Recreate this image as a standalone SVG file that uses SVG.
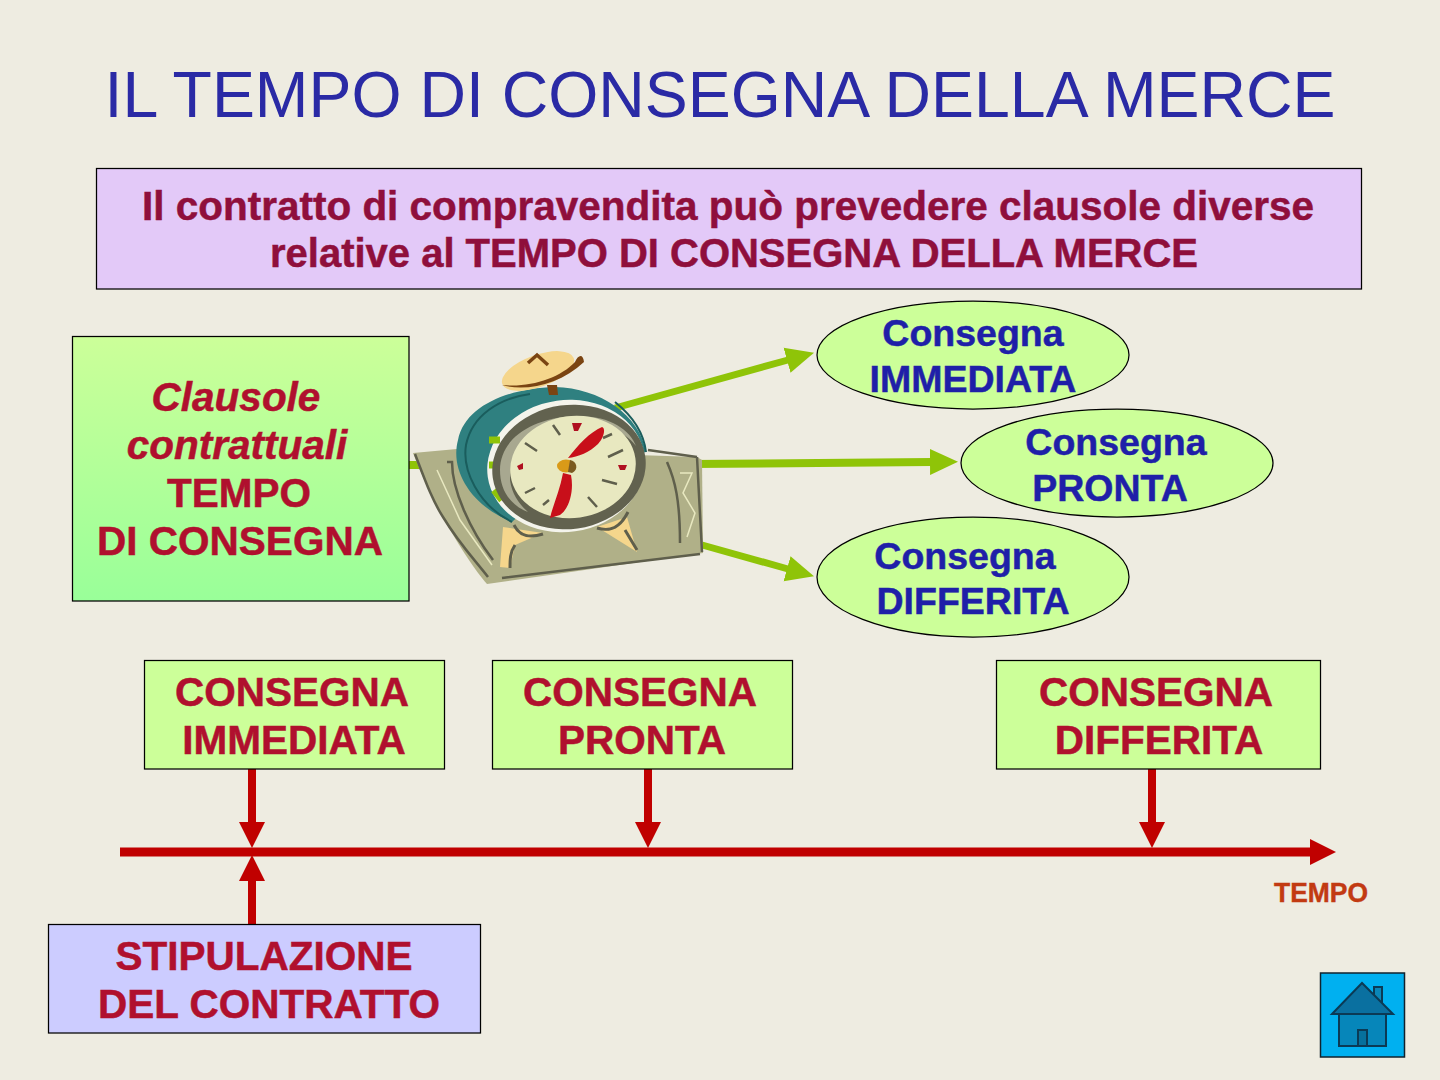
<svg xmlns="http://www.w3.org/2000/svg" width="1440" height="1080" viewBox="0 0 1440 1080">
<style>
text{font-family:"Liberation Sans",Arial,sans-serif;font-weight:bold;text-anchor:middle}
.box{stroke:#000;stroke-width:1.25}
.r{fill:#b0102e;font-size:40.5px;stroke:#b0102e;stroke-width:.5}
.b{fill:#1f1fa8;font-size:37.5px;stroke:#1f1fa8;stroke-width:.5}
.m{fill:#8f0f3c;font-size:40px;stroke:#8f0f3c;stroke-width:.5}
.ln{fill:none;stroke:#8fc408;stroke-width:8}
.t{fill:none;stroke:#c00000;stroke-width:8}
.ell{fill:#ccff99;stroke:#000;stroke-width:1.25}
.gl{fill:none;stroke:#5f5f4c;stroke-width:2.500}
</style>
<defs>
<linearGradient id="gr" x1="0" y1="0" x2="0" y2="1"><stop offset="0" stop-color="#ccff99"/><stop offset="1" stop-color="#99ff99"/></linearGradient>
<marker id="ag" markerUnits="userSpaceOnUse" markerWidth="30" markerHeight="28" refX="1" refY="14" orient="auto"><path d="M0 1L28 14L0 27Z" fill="#8fc408"/></marker>
<marker id="ar" markerUnits="userSpaceOnUse" markerWidth="30" markerHeight="28" refX="1" refY="13" orient="auto"><path d="M0 0L26 13L0 26Z" fill="#c00000"/></marker>
</defs>
<rect width="1440" height="1080" fill="#eeece1"/>
<text id="title" x="720" y="117" style="font-weight:normal;font-size:64px;fill:#2a2aa5" textLength="1231" lengthAdjust="spacingAndGlyphs">IL TEMPO DI CONSEGNA DELLA MERCE</text>
<g id="intro">
<rect class="box" x="96.500" y="168.500" width="1265" height="120.500" fill="#e3c9f8"/>
<text class="m" x="728" y="220" textLength="1172" lengthAdjust="spacingAndGlyphs">Il contratto di compravendita  può prevedere clausole diverse</text>
<text class="m" x="734" y="267" textLength="928" lengthAdjust="spacingAndGlyphs">relative al TEMPO DI CONSEGNA DELLA MERCE</text>
</g>
<g id="connectors">
<path class="ln" d="M408 465L500 465"/>
<path class="ln" d="M615 408L788 360" marker-end="url(#ag)" style="stroke-width:7"/>
<path class="ln" d="M690 464L931 462" marker-end="url(#ag)"/>
<path class="ln" d="M695 543L788 569" marker-end="url(#ag)" style="stroke-width:7"/>
<path class="t" d="M120 852L1311 852" marker-end="url(#ar)" style="stroke-width:9"/>
<path class="t" d="M252 769L252 823" marker-end="url(#ar)"/>
<path class="t" d="M648 769L648 823" marker-end="url(#ar)"/>
<path class="t" d="M1152 769L1152 823" marker-end="url(#ar)"/>
<path class="t" d="M252 925L252 880" marker-end="url(#ar)"/>
</g>
<g id="clausole">
<rect class="box" x="72.500" y="336.500" width="336.500" height="264.500" fill="url(#gr)"/>
<text class="r" x="236" y="411" style="font-style:italic">Clausole</text>
<text class="r" x="237" y="459" style="font-style:italic">contrattuali</text>
<text class="r" x="239" y="507">TEMPO</text>
<text class="r" x="240" y="555">DI CONSEGNA</text>
</g>
<g id="clock">
<path d="M413 453L457 449L697 457L702 460L703 553L487 584C470 565 435 510 413 453Z" fill="#b0b088"/>
<path class="gl" d="M415 454C425 480 432 500 443 517C460 545 475 560 488 577M447 462H452C452 490 470 530 493 560M502 578L700 554M667 462C675 480 680 500 680 543M697 457L702 552M648 450L697 457"/>
<path d="M437 470L460 520L492 565M680 473H692L683 493L695 513L687 537" fill="none" stroke="#e8e8c0" stroke-width="1.500"/>
<path d="M503 527L543 533L515 545L510 568L500 567ZM597 527L627 517L637 552L613 537Z" fill="#f5d68c"/>
<path d="M514 525C520 537 530 538 543 534M515 545C510 552 510 560 510 568M597 528C610 532 620 528 628 512M625 530L637 550" fill="none" stroke="#5f5f4c" stroke-width="3"/>
<path d="M512 522C470 505 450 470 458 440C465 405 510 388 555 387C600 388 640 415 646 452L568 470Z" fill="#2f8080"/>
<path d="M512 522C478 505 462 470 466 445C472 415 500 398 530 394" fill="none" stroke="#1a5d5d" stroke-width="2"/>
<path d="M615 402C635 418 644 435 646 452" fill="none" stroke="#1a5d5d" stroke-width="2"/>
<ellipse cx="566" cy="466" rx="79" ry="66" fill="#f4f4ec" transform="rotate(-8 566 466)"/>
<path d="M489 440L500 440M489 465L500 465M494 490L502 500" fill="none" stroke="#8fc408" stroke-width="7"/>
<ellipse cx="569" cy="467" rx="77" ry="62" fill="#62624f" transform="rotate(-8 569 467)"/>
<path d="M500 470C500 440 530 418 575 416C610 415 630 430 636 446C620 425 590 421 570 423C530 425 510 450 510 480C512 495 520 505 528 512C510 505 500 490 500 470Z" fill="#a8a890"/>
<ellipse cx="573" cy="467" rx="63" ry="51" fill="#e8e8c0" transform="rotate(-8 573 467)"/>
<path d="M553 425L560 435M525 443L537 451M525 493L535 488M543 505L549 500M603 438L612 434M608 457L623 450M602 480L617 484M588 497L597 507" stroke="#5f5f4c" stroke-width="2.500" fill="none"/>
<path d="M572 423L582 423L578 431H574ZM517 466L523 463L523 469L519 470ZM618 465H627L625 470L620 470Z" fill="#b01020"/>
<path d="M568 458C578 445 590 432 602 427C606 428 604 438 598 444C590 452 578 457 568 458ZM563 473L571 475C574 490 570 508 560 515L550 518C553 505 560 490 563 473Z" fill="#c80f1a"/>
<ellipse cx="566" cy="466" rx="9" ry="6.500" fill="#d99a18"/>
<path d="M570 460C577 461 579 470 572 473L568 472Z" fill="#7a5a20"/>
<path d="M547 385L557 385L558 395H549Z" fill="#7a4412"/>
<ellipse cx="538" cy="371" rx="38" ry="16" fill="#f5d68c" transform="rotate(-20 538 371)"/>
<path d="M502 385C525 392 560 385 584 362C583 353 578 355 575 362C560 378 530 388 502 385Z" fill="#7a4412"/>
<path d="M528 363L537 355L548 365" fill="none" stroke="#7a4412" stroke-width="3.500"/>
</g>
<g id="oval-immediata">
<ellipse class="ell" cx="973" cy="355" rx="156" ry="54"/>
<text class="b" x="973" y="346">Consegna</text>
<text class="b" x="973" y="392">IMMEDIATA</text>
</g>
<g id="oval-pronta">
<ellipse class="ell" cx="1117" cy="463" rx="156" ry="54"/>
<text class="b" x="1116" y="455">Consegna</text>
<text class="b" x="1110" y="501">PRONTA</text>
</g>
<g id="oval-differita">
<ellipse class="ell" cx="973" cy="577" rx="156" ry="60"/>
<text class="b" x="965" y="569">Consegna</text>
<text class="b" x="973" y="614">DIFFERITA</text>
</g>
<g id="box-immediata">
<rect class="box" x="144.500" y="660.500" width="300" height="108.500" fill="#ccff99"/>
<text class="r" x="292" y="706">CONSEGNA</text>
<text class="r" x="294" y="754">IMMEDIATA</text>
</g>
<g id="box-pronta">
<rect class="box" x="492.500" y="660.500" width="300" height="108.500" fill="#ccff99"/>
<text class="r" x="640" y="706">CONSEGNA</text>
<text class="r" x="642" y="754">PRONTA</text>
</g>
<g id="box-differita">
<rect class="box" x="996.500" y="660.500" width="324" height="108.500" fill="#ccff99"/>
<text class="r" x="1156" y="706">CONSEGNA</text>
<text class="r" x="1159" y="754">DIFFERITA</text>
</g>
<g id="stipulazione">
<rect class="box" x="48.500" y="924.500" width="432" height="108.500" fill="#ccccff"/>
<text class="r" x="264" y="970">STIPULAZIONE</text>
<text class="r" x="269" y="1018">DEL CONTRATTO</text>
</g>
<text id="tempo" x="1321" y="902" style="font-size:27px;fill:#c23a12;stroke:#c23a12;stroke-width:.4" textLength="94" lengthAdjust="spacingAndGlyphs">TEMPO</text>
<g id="home">
<rect x="1320.500" y="973" width="84" height="84" fill="#00b0f0" stroke="#10222e" stroke-width="1.500"/>
<path d="M1374 987h8v16h-8Z" fill="#0a86b8" stroke="#0b3a55" stroke-width="2"/>
<path d="M1339 1014h47v32h-47Z" fill="#0686ba" stroke="#0b3a55" stroke-width="2"/>
<path d="M1358 1030h9v16h-9Z" fill="#06709c" stroke="#0b3a55" stroke-width="2"/>
<path d="M1332 1014L1362 983L1393 1014Z" fill="#0a70a0" stroke="#0b3a55" stroke-width="2"/>
</g>
</svg>
